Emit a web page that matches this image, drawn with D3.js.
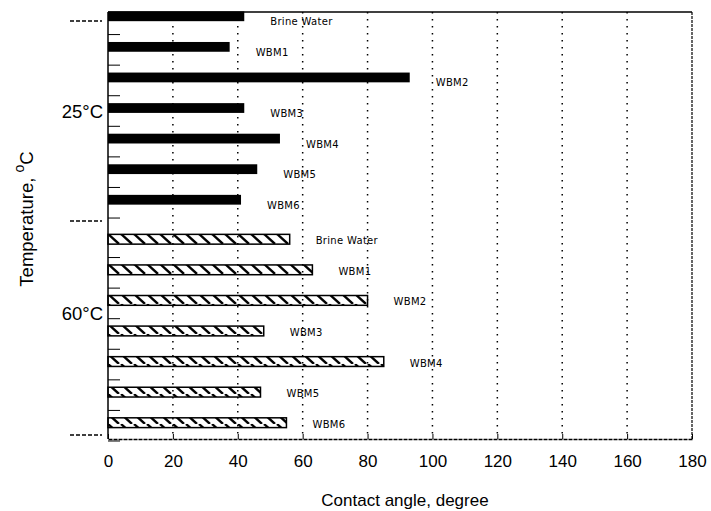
<!DOCTYPE html>
<html>
<head>
<meta charset="utf-8">
<script src="https://cdn.jsdelivr.net/npm/d3@7"></script>
<style>
  body { margin: 0; background: #fff; }
  text { font-family: "Liberation Sans", Arial, sans-serif; fill: #000; }
</style>
</head>
<body>
<div id="chart"></div>
<script>
/** Chart values **/
var temperatures = ["25°C", "60°C"];
var fluids = ["Brine Water", "WBM1", "WBM2", "WBM3", "WBM4", "WBM5", "WBM6"];
var angles25 = [42, 37.5, 93, 42, 53, 46, 41];
var angles60 = [56, 63, 80, 48, 85, 47, 55];
var xTicks = [0, 20, 40, 60, 80, 100, 120, 140, 160, 180];

var angleSets = [angles25, angles60];

var width = 711, height = 511;
var margin = {top: 12, right: 19, bottom: 72, left: 108};
var innerW = width - margin.left - margin.right,
    innerH = height - margin.top - margin.bottom;

var svg = d3.select("#chart").append("svg")
    .attr("width", width)
    .attr("height", height);

/** hatch for the 60°C bars **/
svg.append("defs").append("pattern")
    .attr("id", "hatch")
    .attr("patternUnits", "userSpaceOnUse")
    .attr("width", 13)
    .attr("height", 10)
    .append("path")
    .attr("d", "M0,0 L11,10 M-13,0 L-2,10 M13,0 L24,10")
    .attr("stroke", "#000")
    .attr("stroke-width", 2.4);

var g = svg.append("g")
    .attr("transform", "translate(" + margin.left + "," + margin.top + ")");

var x = d3.scaleLinear().domain([0, 180]).range([0, innerW]);

var yGroup = d3.scaleBand()
    .domain(temperatures)
    .range([-11, innerH - 1])
    .paddingInner(0.04);

var yBar = d3.scaleBand()
    .domain(fluids)
    .range([0, yGroup.bandwidth()])
    .paddingInner(0.68)
    .paddingOuter(0.34);

/** dotted grid **/
g.append("g").selectAll("line")
    .data(xTicks.slice(1, -1))
    .enter().append("line")
    .attr("x1", function (d) { return x(d); })
    .attr("x2", function (d) { return x(d); })
    .attr("y1", 0)
    .attr("y2", innerH)
    .attr("stroke", "#000")
    .attr("stroke-width", 1.5)
    .attr("stroke-dasharray", "1.5,5.5");

/** frame **/
g.append("line").attr("x1", 0).attr("x2", innerW).attr("y1", 0).attr("y2", 0)
    .attr("stroke", "#000").attr("stroke-width", 1.5);
g.append("line").attr("x1", innerW).attr("x2", innerW).attr("y1", 0).attr("y2", innerH)
    .attr("stroke", "#000").attr("stroke-width", 1.2).attr("stroke-dasharray", "3,1");

/** bars **/
var groups = g.selectAll(".grp")
    .data(temperatures)
    .enter().append("g")
    .attr("class", "grp")
    .attr("transform", function (t) { return "translate(0," + yGroup(t) + ")"; });

groups.each(function (t, i) {
    var rows = fluids.map(function (f, j) { return {fluid: f, value: angleSets[i][j]}; });
    var sel = d3.select(this);

    sel.selectAll("rect")
        .data(rows)
        .enter().append("rect")
        .attr("x", 0)
        .attr("y", function (d) { return yBar(d.fluid); })
        .attr("width", function (d) { return x(d.value); })
        .attr("height", yBar.bandwidth())
        .attr("fill", i === 0 ? "#000" : "url(#hatch)")
        .attr("stroke", "#000")
        .attr("stroke-width", i === 0 ? 0 : 1.5);

    sel.selectAll("text")
        .data(rows)
        .enter().append("text")
        .attr("x", function (d) { return x(d.value) + 26; })
        .attr("y", function (d) { return yBar(d.fluid) + yBar.bandwidth() / 2 + (i === 0 ? 9 : 5); })
        .style("font-family", "'DejaVu Sans', sans-serif")
        .style("font-size", "10px")
        .style("letter-spacing", "0.3px")
        .text(function (d) { return d.fluid; });

    /** small inner ticks between bars **/
    sel.selectAll(".mtick")
        .data(fluids)
        .enter().append("line")
        .attr("class", "mtick")
        .attr("x1", 0).attr("x2", 12)
        .attr("y1", function (f) { return yBar(f) + yBar.step() / 2 + yBar.bandwidth() / 2 + 3; })
        .attr("y2", function (f) { return yBar(f) + yBar.step() / 2 + yBar.bandwidth() / 2 + 3; })
        .attr("stroke", "#000").attr("stroke-width", 1);
});

/** axes **/
g.append("g")
    .attr("transform", "translate(0," + innerH + ")")
    .call(d3.axisBottom(x).tickValues(xTicks).tickSizeInner(-5).tickSizeOuter(0).tickPadding(16))
    .call(function (a) {
        a.select(".domain").attr("stroke-width", 1.5).attr("stroke-dasharray", "4,1");
        a.selectAll("text").style("font-size", "17px").attr("font-family", "Liberation Sans, Arial, sans-serif");
    });

g.append("line").attr("x1", 0).attr("x2", 0).attr("y1", 0).attr("y2", innerH)
    .attr("stroke", "#000").attr("stroke-width", 1.5);

/** outer dashed ticks at group borders **/
g.append("g").selectAll("line")
    .data([yGroup("25°C") + 20, yGroup("60°C") - 3, innerH - 4])
    .enter().append("line")
    .attr("x1", -38).attr("x2", -6)
    .attr("y1", function (d) { return d; })
    .attr("y2", function (d) { return d; })
    .attr("stroke", "#000").attr("stroke-width", 1.5)
    .attr("stroke-dasharray", "4,2");

g.append("g").selectAll("text")
    .data(temperatures)
    .enter().append("text")
    .attr("x", -5)
    .attr("y", function (t, i) { return yGroup(t) + yGroup.bandwidth() / 2 + (i === 0 ? 10 : -11); })
    .attr("text-anchor", "end")
    .style("font-size", "18.5px")
    .text(function (t) { return t; });

/** axis titles **/
svg.append("text")
    .attr("x", margin.left + innerW / 2 + 5)
    .attr("y", 506)
    .attr("text-anchor", "middle")
    .style("font-size", "17px")
    .text("Contact angle, degree");

var yt = svg.append("text")
    .attr("transform", "translate(33,219) rotate(-90)")
    .attr("text-anchor", "middle")
    .style("font-size", "18.5px");
yt.append("tspan").text("Temperature, ");
yt.append("tspan").attr("dy", -9).style("font-size", "14px").text("o");
yt.append("tspan").attr("dy", 9).text("C");
</script>
</body>
</html>
